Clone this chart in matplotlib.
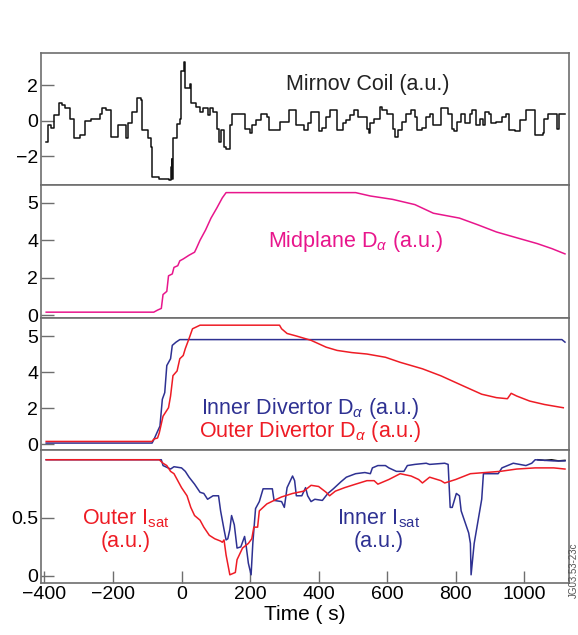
import numpy as np
import matplotlib
matplotlib.use("Agg")
import matplotlib.pyplot as plt

plt.rcParams['font.family'] = ['Liberation Sans', 'DejaVu Sans']
plt.rcParams['mathtext.fontset'] = 'custom'
plt.rcParams['mathtext.rm'] = 'Liberation Sans'
plt.rcParams['mathtext.it'] = 'Liberation Sans:italic'

# Mirnov coil signal (a.u.)
mirnov_t = [-395, -390, -380, -372, -359, -350, -340, -325, -313, -297,
            -281, -265, -238, -232, -221, -205, -189, -184, -173, -162,
            -157, -146, -130, -119, -114, -103, -97, -90, -86, -65,
            -38, -32, -29, -27, -25, -12, -5, -3, 8, 11,
            24, 27, 43, 54, 62, 76, 84, 92, 103, 108,
            114, 124, 130, 141, 146, 173, 184, 200, 205, 216,
            232, 249, 254, 270, 286, 303, 314, 330, 335, 346,
            357, 368, 378, 395, 400, 411, 422, 432, 449, 454,
            470, 481, 492, 503, 514, 530, 540, 546, 551, 562,
            578, 584, 600, 616, 622, 632, 643, 654, 670, 681,
            686, 703, 714, 724, 735, 751, 757, 768, 778, 789,
            795, 805, 816, 827, 843, 849, 859, 870, 881, 886,
            897, 903, 919, 935, 946, 957, 973, 989, 1005, 1027,
            1032, 1054, 1059, 1070, 1092, 1097, 1103, 1119]
mirnov_v = [-1.2, -0.25, -0.4, 0.3, 1.0, 0.9, 0.7, 0.1, -1.0, -0.8,
            0.0, 0.1, 0.4, 0.7, 0.6, -0.9, -0.9, -0.25, -0.25, -1.0,
            -0.1, 0.5, 1.3, 1.2, -0.5, -0.5, -1.0, -1.5, -3.2, -3.3,
            -3.35, -2.6, -2.15, -3.3, -1.0, -0.2, 0.1, 2.8, 3.3, 1.85,
            2.1, 1.0, 0.8, 0.5, 0.7, 0.3, 0.7, 0.5, -0.45, -1.2,
            -0.5, -1.5, -1.6, -0.25, 0.4, 0.4, -0.45, -0.7, -0.25, 0.05,
            0.4, 0.2, -0.5, -0.5, -0.05, -0.05, 0.6, 0.6, -0.25, -0.25,
            -0.5, -0.15, 0.5, 0.5, -0.6, -0.4, 0.2, 0.6, 0.6, -0.5,
            -0.15, 0.05, 0.3, 0.6, 0.2, 0.2, -0.45, -0.7, -0.15, 0.1,
            0.8, 0.6, 0.4, -0.45, -0.9, -0.5, -0.05, 0.4, 0.6, 0.2,
            -0.5, -0.4, 0.2, 0.4, -0.25, -0.25, 0.7, 0.7, 0.4, -0.45,
            -0.6, -0.05, 0.4, -0.15, 0.4, 0.6, -0.25, 0.1, -0.25, 0.5,
            0.4, -0.15, -0.05, 0.2, 0.4, -0.5, -0.6, 0.05, 0.6, 0.6,
            -0.8, -0.7, 0.1, 0.4, 0.4, -0.45, 0.4, 0.4]

# Midplane D-alpha
mid_t = [-395, -81, -70, -59, -54, -43, -38, -27, -22, -11,
         -5, 5, 22, 38, 43, 54, 70, 86, 103, 119,
         130, 508, 551, 616, 681, 735, 811, 865, 919, 984,
         1038, 1081, 1119]
mid_v = [0.16, 0.16, 0.27, 0.36, 1.1, 1.27, 2.1, 2.2, 2.55, 2.64,
         2.9, 3.0, 3.2, 3.36, 3.55, 4.0, 4.27, 4.59, 4.86, 5.13,
         5.27, 5.27, 5.18, 5.09, 4.95, 4.72, 4.59, 4.41, 4.22, 4.05,
         3.82, 3.55, 3.27]

# Inner / outer divertor D-alpha
indiv_t = [-395, -86, -81, -70, -63, -56, -49, -43, -32, -27, -16, -5, 1110, 1119]
indiv_v = [0.06, 0.06, 0.24, 0.71, 1.0, 2.49, 2.86, 4.18, 4.37, 4.74, 4.83, 4.9, 4.9, 4.83]

outdiv_t = [-395, -86, -81, -70, -65, -54, -38, -32, -25, -13,
            -5, 5, 11, 22, 32, 54, 286, 292, 308, 335,
            378, 422, 454, 497, 541, 595, 638, 703, 757, 822,
            876, 919, 951, 962, 978, 1016, 1059, 1114]
outdiv_v = [0.15, 0.15, 0.28, 0.34, 0.62, 1.55, 2.02, 2.67, 3.8, 4.03,
            4.37, 4.46, 4.65, 4.93, 5.2, 5.3, 5.3, 5.2, 5.07, 5.0,
            4.88, 4.69, 4.6, 4.54, 4.5, 4.41, 4.27, 4.09, 3.79, 3.23,
            2.77, 2.58, 2.52, 2.82, 2.67, 2.39, 2.2, 2.02]

# Isat
inisat_t = [-395, -59, -54, -32, -22, 0, 11, 22, 38, 54,
            65, 76, 92, 108, 114, 124, 130, 135, 141, 146,
            154, 162, 173, 184, 189, 195, 203, 208, 216, 227,
            238, 265, 270, 292, 300, 308, 324, 330, 335, 351,
            362, 368, 378, 389, 411, 427, 443, 465, 481, 508,
            535, 551, 557, 573, 595, 605, 627, 649, 659, 681,
            714, 724, 768, 778, 784, 790, 802, 811, 816, 838,
            843, 845, 854, 876, 881, 924, 935, 968, 1005, 1022,
            1032, 1086, 1119]
inisat_v = [1.0, 1.0, 0.95, 0.92, 0.94, 0.93, 0.9, 0.85, 0.79, 0.72,
            0.71, 0.66, 0.69, 0.69, 0.56, 0.4, 0.31, 0.32, 0.4, 0.52,
            0.44, 0.24, 0.25, 0.34, 0.25, 0.11, 0.01, 0.28, 0.58, 0.64,
            0.75, 0.75, 0.65, 0.64, 0.59, 0.76, 0.86, 0.82, 0.69, 0.69,
            0.76, 0.69, 0.64, 0.66, 0.65, 0.71, 0.75, 0.81, 0.85, 0.88,
            0.89, 0.88, 0.93, 0.95, 0.95, 0.93, 0.9, 0.9, 0.95, 0.96,
            0.97, 0.96, 0.97, 0.96, 0.59, 0.59, 0.71, 0.69, 0.56, 0.37,
            0.28, 0.01, 0.28, 0.66, 0.88, 0.88, 0.93, 0.97, 0.95, 0.97,
            1.0, 0.99, 0.99]

outisat_t = [-395, -65, -54, -43, -32, -22, -11, 0, 16, 27,
             38, 54, 65, 81, 97, 114, 119, 124, 130, 141,
             157, 162, 178, 195, 205, 211, 222, 227, 249, 270,
             292, 324, 357, 378, 400, 422, 432, 449, 476, 508,
             541, 562, 573, 605, 638, 670, 692, 703, 724, 757,
             768, 800, 843, 886, 930, 978, 1032, 1086, 1119]
outisat_v = [1.0, 1.0, 0.97, 0.95, 0.9, 0.88, 0.82, 0.76, 0.69, 0.59,
             0.52, 0.48, 0.42, 0.35, 0.32, 0.3, 0.29, 0.31, 0.18, 0.01,
             0.03, 0.14, 0.24, 0.28, 0.32, 0.42, 0.42, 0.56, 0.62, 0.65,
             0.68, 0.71, 0.73, 0.78, 0.77, 0.72, 0.69, 0.73, 0.76, 0.79,
             0.82, 0.82, 0.79, 0.83, 0.88, 0.86, 0.83, 0.8, 0.85, 0.82,
             0.8, 0.83, 0.88, 0.89, 0.9, 0.92, 0.93, 0.93, 0.92]

black_t = [1040, 1060, 1080, 1100, 1119]
black_v = [1.0, 0.995, 1.0, 0.99, 0.995]

PINK = '#E8168C'
BLUE = '#2E3192'
RED = '#EE1C25'
SPINE = '#6e6e6e'
FS_NOTE = 15.5


# axis 0..4 linear, 4..5 stretched two-fold (as in the original plot)
def fwd(v):
    v = np.asarray(v, dtype=float)
    return np.where(v <= 4, v, 4 + 2 * (v - 4))


def inv(d):
    d = np.asarray(d, dtype=float)
    return np.where(d <= 4, d, 4 + (d - 4) / 2)


fig, axes = plt.subplots(4, 1, figsize=(5.78, 6.35), dpi=100, sharex=True,
                         gridspec_kw={'hspace': 0})
fig.subplots_adjust(left=0.071, right=0.984, top=0.9165, bottom=0.082)

for ax in axes:
    for s in ax.spines.values():
        s.set_color(SPINE)
        s.set_linewidth(1.2)
    ax.tick_params(axis='both', direction='in', length=9, width=1.0,
                   color=SPINE, labelsize=14, pad=2)
    ax.tick_params(axis='x', bottom=False, labelbottom=False)
    ax.set_xlim(-410, 1130)

lw = 1.1
ax1, ax2, ax3, ax4 = axes

ax1.plot(mirnov_t, mirnov_v, color='#111111', lw=lw, drawstyle='steps-post')
ax1.set_ylim(-3.66, 3.83)
ax1.set_yticks([-2, 0, 2])
ax1.text(0.62, 0.76, 'Mirnov Coil (a.u.)', transform=ax1.transAxes,
         ha='center', va='center', fontsize=FS_NOTE, color='#222222')

ax2.set_yscale('function', functions=(fwd, inv))
ax2.plot(mid_t, mid_v, color=PINK, lw=lw)
ax2.set_ylim(-0.15, 5.46)
ax2.set_yticks([0, 2, 4, 5])
ax2.text(0.595, 0.575, r'Midplane D$_{\alpha}$ (a.u.)', transform=ax2.transAxes,
         ha='center', va='center', fontsize=FS_NOTE, color=PINK)

ax3.set_yscale('function', functions=(fwd, inv))
ax3.plot(indiv_t, indiv_v, color=BLUE, lw=lw)
ax3.plot(outdiv_t, outdiv_v, color=RED, lw=lw)
ax3.set_ylim(-0.35, 5.5)
ax3.set_yticks([0, 2, 4, 5])
ax3.text(0.51, 0.32, r'Inner Divertor D$_{\alpha}$ (a.u.)', transform=ax3.transAxes,
         ha='center', va='center', fontsize=FS_NOTE, color=BLUE)
ax3.text(0.51, 0.145, r'Outer Divertor D$_{\alpha}$ (a.u.)', transform=ax3.transAxes,
         ha='center', va='center', fontsize=FS_NOTE, color=RED)

ax4.plot(black_t, black_v, color='#111111', lw=lw)
ax4.plot(inisat_t, inisat_v, color=BLUE, lw=lw)
ax4.plot(outisat_t, outisat_v, color=RED, lw=lw)
ax4.set_ylim(-0.06, 1.08)
ax4.set_yticks([0, 0.5])
ax4.set_yticklabels(['0', '0.5'])
ax4.tick_params(axis='x', bottom=True, labelbottom=True)
ax4.set_xticks([-400, -200, 0, 200, 400, 600, 800, 1000])
ax4.set_xlabel('Time ( s)', fontsize=15, labelpad=2)
ax4.text(0.16, 0.485, r'Outer I$_{\rm sat}$', transform=ax4.transAxes,
         ha='center', va='center', fontsize=FS_NOTE, color=RED)
ax4.text(0.16, 0.31, '(a.u.)', transform=ax4.transAxes,
         ha='center', va='center', fontsize=FS_NOTE, color=RED)
ax4.text(0.64, 0.485, r'Inner I$_{\rm sat}$', transform=ax4.transAxes,
         ha='center', va='center', fontsize=FS_NOTE, color=BLUE)
ax4.text(0.64, 0.31, '(a.u.)', transform=ax4.transAxes,
         ha='center', va='center', fontsize=FS_NOTE, color=BLUE)

fig.text(0.992, 0.058, 'JG03.53-23c', rotation=90, ha='center', va='bottom',
         fontsize=7, color='#555555')

fig.savefig('out.png', dpi=100)
